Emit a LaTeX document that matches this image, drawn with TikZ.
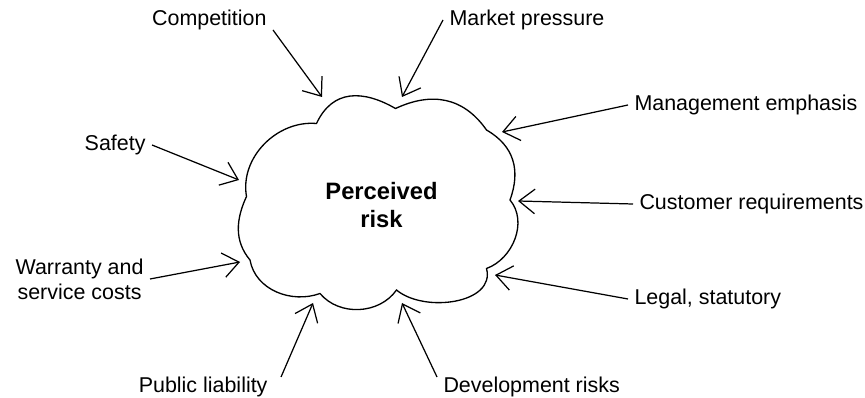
\documentclass[tikz,border=0pt]{standalone}
\usepackage{fontspec}
\setmainfont{Liberation Sans}
\usetikzlibrary{arrows.meta}

\begin{document}
\begin{tikzpicture}[
	lbl/.style={font=\fontsize{12.2}{14.2}\selectfont, inner xsep=3.5pt, inner ysep=0pt, align=center},
	arr/.style={line width=0.7pt, -{Straight Barb[length=9pt,width=14pt,line width=0.7pt]}}
	]
	
	\useasboundingbox (0,0) rectangle (17.3,7.94);
	
	% the cloud, lobe by lobe, clockwise from the top left
	\draw [line width=0.75pt] (6.33,5.47) to [out=65,in=150,looseness=1.2] (7.91,5.77)
		to [out=25,in=125,looseness=1.1] (9.73,5.34)
		to [out=-30,in=70,looseness=1.1] (10.20,3.94)
		to [out=-50,in=20] (9.73,2.57)
		to [out=-75,in=-40] (7.93,2.14)
		to [out=-125,in=-50] (6.40,2.07)
		to [out=-160,in=-80] (5.00,2.74)
		to [out=130,in=-115] (4.93,4.01)
		to [out=100,in=175] (6.33,5.47) -- cycle;
	
	\node [font=\fontsize{13.5}{16}\selectfont\bfseries, align=center] (risk) at (7.63,3.84) {Perceived\\risk};
	
	% arrow tips on the cloud
	\coordinate (tcomp) at (6.44,6.00);
	\coordinate (tmkt) at (8.04,6.00);
	\coordinate (tmgmt) at (10.04,5.30);
	\coordinate (tcust) at (10.36,3.92);
	\coordinate (tlegal) at (9.90,2.44);
	\coordinate (tsafety) at (4.78,4.34);
	\coordinate (twarr) at (4.80,2.70);
	\coordinate (tpub) at (6.26,1.88);
	\coordinate (tdev) at (8.04,1.88);
	
	% influences
	\node [lbl, above left] (comp) at (5.46,7.34) {Competition};
	\node [lbl, right] (mkt) at (8.86,7.54) {Market pressure};
	\node [lbl, right] (mgmt) at (12.56,5.84) {Management emphasis};
	\node [lbl, right] (cust) at (12.66,3.86) {Customer requirements};
	\node [lbl, right] (legal) at (12.56,1.96) {Legal, statutory};
	\node [lbl, left] (safety) at (3.04,5.04) {Safety};
	\node [lbl, left] (warr) at (3.00,2.36) {Warranty and\\service costs};
	\node [lbl, below left] (pub) at (5.48,0.40) {Public liability};
	\node [lbl, below right] (dev) at (8.74,0.40) {Development risks};
	
	\draw [arr] (comp.south east) -- (tcomp);
	\draw [arr] (mkt.west) -- (tmkt);
	\draw [arr] (mgmt.west) -- (tmgmt);
	\draw [arr] (cust.west) -- (tcust);
	\draw [arr] (legal.west) -- (tlegal);
	\draw [arr] (safety.east) -- (tsafety);
	\draw [arr] (warr.east) -- (twarr);
	\draw [arr] ([xshift=4pt]pub.north east) -- (tpub);
	\draw [arr] (dev.north west) -- (tdev);
	
\end{tikzpicture}
\end{document}
